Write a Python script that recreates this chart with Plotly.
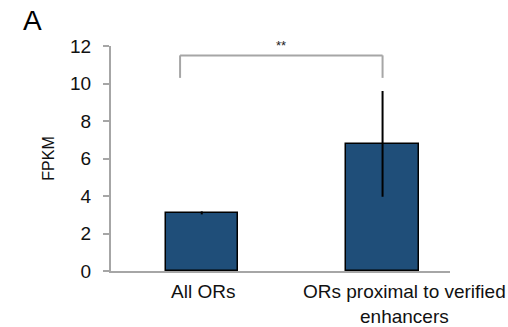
import plotly.graph_objects as go

categories = ["All ORs", "ORs proximal to verified<br>enhancers"]
fpkm_mean = [3.1, 6.78]
fpkm_err = [0.08, 2.82]
y_ticks = [0, 2, 4, 6, 8, 10, 12]
sig_label = "**"
sig_y_low = 10.3
sig_y_high = 11.5

xpos = list(range(len(categories)))
bar_color = "#1f4e79"
axis_color = "#a6a6a6"
font_family = "Liberation Sans, Arial, sans-serif"

fig = go.Figure()
fig.add_trace(go.Bar(
    x=xpos, y=fpkm_mean, width=0.4,
    marker=dict(color=bar_color, line=dict(color="black", width=1.5)),
    error_y=dict(type="data", array=fpkm_err, visible=True, color="black", thickness=2, width=0),
    showlegend=False,
))

# significance bracket
left_x = xpos[0] - 0.12
right_x = xpos[1]
bracket = dict(type="line", xref="x", yref="y", line=dict(color=axis_color, width=2))
fig.add_shape(**bracket, x0=left_x, x1=left_x, y0=sig_y_low, y1=sig_y_high)
fig.add_shape(**bracket, x0=left_x, x1=right_x, y0=sig_y_high, y1=sig_y_high)
fig.add_shape(**bracket, x0=right_x, x1=right_x, y0=sig_y_low, y1=sig_y_high)
fig.add_annotation(x=(left_x + right_x) / 2, y=sig_y_high, text=sig_label, showarrow=False,
                   yanchor="bottom", yshift=0, font=dict(size=13, color="#222"))

# category labels
shifts = [1, 22]
for xi, lab, sh in zip(xpos, categories, shifts):
    fig.add_annotation(x=xi, y=0, xref="x", yref="y", text=lab, showarrow=False,
                       yanchor="top", xanchor="center", xshift=sh, yshift=-8,
                       font=dict(size=19, color="#111"), align="center")

fig.add_annotation(x=(32 - 111) / 339, y=(271 - 21) / 225, xref="paper", yref="paper",
                   text="A", showarrow=False, xanchor="center", yanchor="middle",
                   font=dict(size=28, color="black"))

fig.update_layout(
    width=508, height=327,
    margin=dict(l=111, r=58, t=46, b=56),
    paper_bgcolor="white", plot_bgcolor="white",
    font=dict(family=font_family, color="#111"),
    bargap=0,
)
fig.update_xaxes(range=[-0.502, 1.373], showline=True, linecolor=axis_color, linewidth=2,
                 showticklabels=False, ticks="", showgrid=False, zeroline=False)
fig.update_yaxes(range=[0, 12], tickvals=y_ticks, showline=True, linecolor=axis_color, linewidth=2,
                 ticks="outside", ticklen=6, tickwidth=2, tickcolor=axis_color,
                 ticklabelstandoff=8,
                 tickfont=dict(size=19, color="#111"), showgrid=False, zeroline=False,
                 title=dict(text="FPKM", font=dict(size=16, color="#111"), standoff=11))

fig.write_html("out.html", config={"displayModeBar": False},
               post_script="document.body.style.margin='0';")
